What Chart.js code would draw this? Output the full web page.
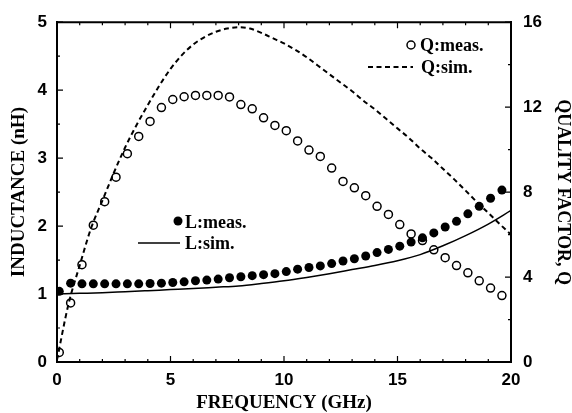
<!DOCTYPE html>
<html>
<head>
<meta charset="utf-8">
<script src="https://cdn.jsdelivr.net/npm/chart.js@4/dist/chart.umd.min.js"></script>
<style>
  html, body { margin: 0; padding: 0; background: #fff; }
  canvas { display: block; }
</style>
</head>
<body>
<canvas id="lq" width="572" height="413"></canvas>
<script>
/* measured points, GHz */
const freqMeas = [0.1, 0.6, 1.1, 1.6, 2.1, 2.6, 3.1, 3.6, 4.1, 4.6, 5.1, 5.6, 6.1, 6.6, 7.1, 7.6, 8.1, 8.6, 9.1, 9.6,
                  10.1, 10.6, 11.1, 11.6, 12.1, 12.6, 13.1, 13.6, 14.1, 14.6, 15.1, 15.6, 16.1, 16.6, 17.1, 17.6, 18.1, 18.6, 19.1, 19.6];
const lMeas = [1.04, 1.16, 1.15, 1.15, 1.15, 1.15, 1.15, 1.15, 1.155, 1.16, 1.17, 1.18, 1.195, 1.205, 1.22, 1.24, 1.255, 1.27, 1.285, 1.30,
               1.33, 1.366, 1.39, 1.414, 1.448, 1.487, 1.52, 1.56, 1.61, 1.657, 1.705, 1.764, 1.827, 1.9, 1.987, 2.07, 2.18, 2.29, 2.41, 2.53];
const qMeas = [0.45, 2.78, 4.58, 6.44, 7.55, 8.7, 9.81, 10.62, 11.33, 11.98, 12.36, 12.49, 12.55, 12.55, 12.55, 12.48, 12.12, 11.92, 11.5, 11.14,
               10.89, 10.41, 9.98, 9.68, 9.13, 8.5, 8.2, 7.83, 7.33, 6.95, 6.47, 6.03, 5.72, 5.28, 4.91, 4.54, 4.2, 3.82, 3.48, 3.13];

/* simulated curves */
const freqSimL = [0, 1, 2, 3, 4, 5, 6, 7, 8, 9, 10, 11, 12, 13, 14, 15, 16, 17, 18, 19, 20];
const lSim = [1.0, 1.01, 1.02, 1.035, 1.05, 1.065, 1.08, 1.1, 1.12, 1.155, 1.195, 1.245, 1.3, 1.36, 1.42, 1.49, 1.58, 1.71, 1.86, 2.03, 2.23];
const freqSimQ = [0, 0.5, 1, 1.5, 2, 2.5, 3, 3.5, 4, 4.5, 5, 5.5, 6, 6.5, 7, 7.5, 8, 8.5, 9, 9.5,
                  10, 10.5, 11, 11.5, 12, 12.5, 13, 13.5, 14, 14.5, 15, 15.5, 16, 16.5, 17, 17.5, 18, 18.5, 19, 19.5, 20];
const qSim = [0.1, 2.7, 4.55, 6.3, 7.6, 8.9, 10.1, 11.15, 12.1, 13.0, 13.8, 14.45, 14.95, 15.3, 15.55, 15.7, 15.76, 15.7, 15.5, 15.25,
              15.0, 14.7, 14.35, 13.95, 13.55, 13.15, 12.75, 12.3, 11.9, 11.45, 11.0, 10.55, 10.05, 9.6, 9.1, 8.6, 8.07, 7.53, 7.02, 6.5, 6.0];

const xTicks = [0, 5, 10, 15, 20];

const SERIF = "'Liberation Serif', 'Times New Roman', serif";
const SANS = "'Liberation Sans', Arial, sans-serif";

const pts = (xs, ys) => xs.map((x, i) => ({ x: x, y: ys[i] }));

/* frame top edge + inward tick marks on all four sides */
const frameTicks = {
    id: 'frameTicks',
    afterDraw(chart) {
        const { ctx, chartArea: a, scales } = chart;
        ctx.save();
        ctx.strokeStyle = '#000';
        ctx.lineWidth = 2;
        ctx.beginPath();
        ctx.moveTo(a.left - 1, a.top);
        ctx.lineTo(a.right + 1, a.top);
        ctx.stroke();

        ctx.lineWidth = 1.2;
        ctx.beginPath();
        for (let v = 0; v <= 20; v++) {
            const px = scales.x.getPixelForValue(v);
            const len = v % 5 === 0 ? 6 : 3;
            ctx.moveTo(px, a.top); ctx.lineTo(px, a.top + len);
            ctx.moveTo(px, a.bottom); ctx.lineTo(px, a.bottom - len);
        }
        for (let v = 0; v <= 5; v += 0.5) {
            const py = scales.y.getPixelForValue(v);
            const len = Number.isInteger(v) ? 6 : 3;
            ctx.moveTo(a.left, py); ctx.lineTo(a.left + len, py);
        }
        for (let v = 0; v <= 16; v += 2) {
            const py = scales.y2.getPixelForValue(v);
            const len = v % 4 === 0 ? 6 : 3;
            ctx.moveTo(a.right, py); ctx.lineTo(a.right - len, py);
        }
        ctx.stroke();
        ctx.restore();
    }
};

/* key boxes inside the plot */
const keyLabels = {
    id: 'keyLabels',
    afterDraw(chart) {
        const ctx = chart.ctx;
        ctx.save();
        ctx.fillStyle = '#000';
        ctx.strokeStyle = '#000';
        ctx.font = `bold 18px ${SERIF}`;
        ctx.textBaseline = 'middle';
        ctx.textAlign = 'left';

        // Q measured
        ctx.lineWidth = 1.5;
        ctx.beginPath(); ctx.arc(411, 45, 4, 0, Math.PI * 2); ctx.stroke();
        ctx.fillText('Q:meas.', 420, 46);
        // Q simulated
        ctx.setLineDash([5, 3.5]);
        ctx.lineWidth = 2;
        ctx.beginPath(); ctx.moveTo(368, 67); ctx.lineTo(413, 67); ctx.stroke();
        ctx.setLineDash([]);
        ctx.fillText('Q:sim.', 421, 68);
        // L measured
        ctx.beginPath(); ctx.arc(178, 221, 4.5, 0, Math.PI * 2); ctx.fill();
        ctx.fillText('L:meas.', 185, 223);
        // L simulated
        ctx.lineWidth = 1.5;
        ctx.beginPath(); ctx.moveTo(138, 243); ctx.lineTo(180, 243); ctx.stroke();
        ctx.fillText('L:sim.', 185, 244);
        ctx.restore();
    }
};

new Chart(document.getElementById('lq').getContext('2d'), {
    type: 'scatter',
    data: {
        datasets: [
            {
                label: 'L:meas.', data: pts(freqMeas, lMeas), yAxisID: 'y',
                pointRadius: 4.5, pointBackgroundColor: '#000', pointBorderColor: '#000', pointBorderWidth: 0
            },
            {
                label: 'Q:meas.', data: pts(freqMeas, qMeas), yAxisID: 'y2',
                pointRadius: 4, pointBackgroundColor: 'rgba(0,0,0,0)', pointBorderColor: '#000', pointBorderWidth: 1.5
            },
            {
                label: 'L:sim.', data: pts(freqSimL, lSim), yAxisID: 'y',
                showLine: true, pointRadius: 0, borderColor: '#000', borderWidth: 1.5,
                cubicInterpolationMode: 'monotone'
            },
            {
                label: 'Q:sim.', data: pts(freqSimQ, qSim), yAxisID: 'y2',
                showLine: true, pointRadius: 0, borderColor: '#000', borderWidth: 2,
                borderDash: [5, 3.5], cubicInterpolationMode: 'monotone'
            }
        ]
    },
    options: {
        responsive: false,
        animation: false,
        events: [],
        layout: { padding: { left: 0, right: 0, top: 19, bottom: 0 } },
        plugins: { legend: { display: false }, tooltip: { enabled: false } },
        scales: {
            x: {
                type: 'linear', position: 'bottom', min: 0, max: 20,
                afterBuildTicks: s => { s.ticks = xTicks.map(v => ({ value: v })); },
                afterFit: s => { s.height = 51; },
                ticks: { color: '#000', padding: 8, font: { family: SANS, size: 17, weight: 'bold' } },
                grid: { drawOnChartArea: false, drawTicks: false },
                border: { color: '#000', width: 2 },
                title: {
                    display: true, text: 'FREQUENCY (GHz)', color: '#000',
                    font: { family: SERIF, size: 19, weight: 'bold', lineHeight: 1 },
                    padding: { top: 0, bottom: 0 }
                }
            },
            y: {
                type: 'linear', position: 'left', min: 0, max: 5,
                afterFit: s => { s.width = 57; },
                ticks: { stepSize: 1, color: '#000', padding: 10, font: { family: SANS, size: 17, weight: 'bold' } },
                grid: { drawOnChartArea: false, drawTicks: false },
                border: { color: '#000', width: 2 },
                title: {
                    display: true, text: 'INDUCTANCE (nH)', color: '#000',
                    font: { family: SERIF, size: 19, weight: 'bold', lineHeight: 1 },
                    padding: { top: 10, bottom: 0 }
                }
            },
            y2: {
                type: 'linear', position: 'right', min: 0, max: 16,
                afterFit: s => { s.width = 61; },
                ticks: { stepSize: 4, color: '#000', padding: 12, font: { family: SANS, size: 17, weight: 'bold' } },
                grid: { drawOnChartArea: false, drawTicks: false },
                border: { color: '#000', width: 2 },
                title: {
                    display: true, text: 'QUALITY FACTOR, Q', color: '#000',
                    font: { family: SERIF, size: 18, weight: 'bold', lineHeight: 1 },
                    padding: { top: 0, bottom: 0 }
                }
            }
        }
    },
    plugins: [frameTicks, keyLabels]
});
</script>
</body>
</html>
